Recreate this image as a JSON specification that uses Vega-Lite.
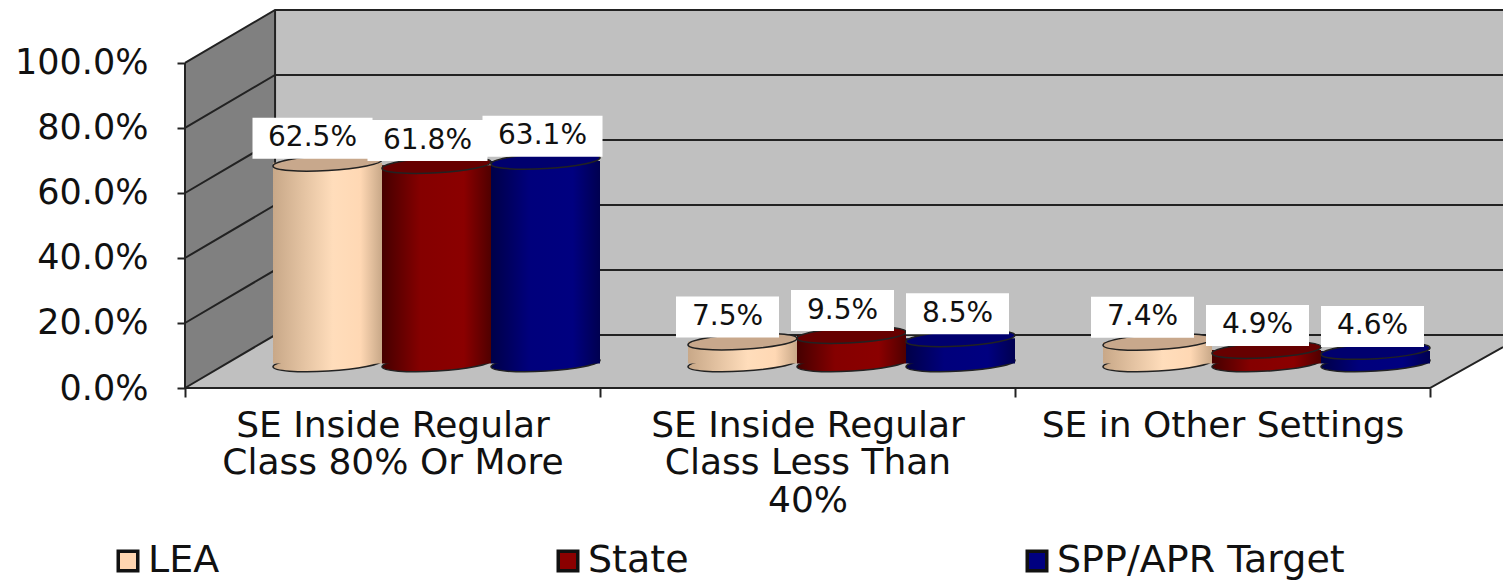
{
"$schema":"https://vega.github.io/schema/vega-lite/v6.json",
"width":1318,"height":378,
"autosize":{"type":"none"},
"padding":{"left":185,"top":10,"right":0,"bottom":194},
"background":"white",
"view":{"stroke":null},
"config":{"font":"DejaVu Sans","axis":{"grid":false}},
"params":[{"name":"cyl","expr":"{'LEA':{gradient:'linear',x1:0,x2:1,y1:0,y2:0,stops:[{offset:0,color:'#C8A888'},{offset:0.55,color:'#FFDDBB'},{offset:0.8,color:'#FFD8B4'},{offset:1,color:'#C8A888'}]},'State':{gradient:'linear',x1:0,x2:1,y1:0,y2:0,stops:[{offset:0,color:'#450000'},{offset:0.35,color:'#850000'},{offset:0.75,color:'#8B0000'},{offset:1,color:'#500000'}]},'SPP/APR Target':{gradient:'linear',x1:0,x2:1,y1:0,y2:0,stops:[{offset:0,color:'#000048'},{offset:0.35,color:'#00007C'},{offset:0.75,color:'#000080'},{offset:1,color:'#000050'}]}}"}],
"datasets":{
"walls":[
{"part":"side","gx":0,"gy":0,"gy2":1},
{"part":"side","gx":0.217,"gy":0.163,"gy2":1.163},
{"part":"back","gx":0.217,"gy":0.163,"gy2":1.163},
{"part":"back","gx":3.176,"gy":0.163,"gy2":1.163},
{"part":"floor","gx":0,"gy":0,"gy2":0},
{"part":"floor","gx":0.217,"gy":0,"gy2":0.163},
{"part":"floor","gx":3,"gy":0,"gy2":0.163},
{"part":"floor","gx":3.176,"gy":0.126,"gy2":0.163}
],
"lines":[
{"g":"k0","i":0,"gx":0,"gy":0},{"g":"k0","i":1,"gx":0.217,"gy":0.163},{"g":"k0","i":2,"gx":3.176,"gy":0.163},
{"g":"k1","i":0,"gx":0,"gy":0.2},{"g":"k1","i":1,"gx":0.217,"gy":0.363},{"g":"k1","i":2,"gx":3.176,"gy":0.363},
{"g":"k2","i":0,"gx":0,"gy":0.4},{"g":"k2","i":1,"gx":0.217,"gy":0.563},{"g":"k2","i":2,"gx":3.176,"gy":0.563},
{"g":"k3","i":0,"gx":0,"gy":0.6},{"g":"k3","i":1,"gx":0.217,"gy":0.763},{"g":"k3","i":2,"gx":3.176,"gy":0.763},
{"g":"k4","i":0,"gx":0,"gy":0.8},{"g":"k4","i":1,"gx":0.217,"gy":0.963},{"g":"k4","i":2,"gx":3.176,"gy":0.963},
{"g":"k5","i":0,"gx":0,"gy":1},{"g":"k5","i":1,"gx":0.217,"gy":1.163},{"g":"k5","i":2,"gx":3.176,"gy":1.163},
{"g":"front","i":0,"gx":0,"gy":0},{"g":"front","i":1,"gx":3,"gy":0},{"g":"front","i":2,"gx":3.176,"gy":0.126},
{"g":"left","i":0,"gx":0,"gy":0},{"g":"left","i":1,"gx":0,"gy":1},
{"g":"corner","i":0,"gx":0.217,"gy":0.163},{"g":"corner","i":1,"gx":0.217,"gy":1.163}
],
"bars":[
{"category":"SE Inside Regular Class 80% Or More","series":"LEA","value":0.625},
{"category":"SE Inside Regular Class 80% Or More","series":"State","value":0.618},
{"category":"SE Inside Regular Class 80% Or More","series":"SPP/APR Target","value":0.631},
{"category":"SE Inside Regular Class Less Than 40%","series":"LEA","value":0.075},
{"category":"SE Inside Regular Class Less Than 40%","series":"State","value":0.095},
{"category":"SE Inside Regular Class Less Than 40%","series":"SPP/APR Target","value":0.085},
{"category":"SE in Other Settings","series":"LEA","value":0.074},
{"category":"SE in Other Settings","series":"State","value":0.049},
{"category":"SE in Other Settings","series":"SPP/APR Target","value":0.046}
]
},
"resolve":{"scale":{"x":"independent","xOffset":"independent","fill":"independent"},"axis":{"y":"independent"}},
"layer":[
{"data":{"name":"bars"},
 "mark":{"type":"point","filled":true,"size":1,"opacity":1},
 "encoding":{"x":{"field":"category","type":"nominal","sort":null,"axis":null,"scale":{"type":"band","range":[0,1245],"paddingInner":0,"paddingOuter":0}},
 "y":{"field":"value","type":"quantitative","scale":{"domain":[0,1.163],"nice":false},
  "axis":{"title":null,"values":[0,0.2,0.4,0.6,0.8,1],"format":".1%","domain":false,"grid":false,"tickColor":"#222222","tickWidth":2,"tickSize":8,"labelFontSize":35,"labelColor":"#111111","labelPadding":29,"labelFont":"DejaVu Sans"}},
 "color":{"field":"series","type":"nominal","title":null,"scale":{"domain":["LEA","State","SPP/APR Target"],"range":["#FFD5B0","#8B0000","#000080"]},
 "legend":{"orient":"none","legendX":-76,"legendY":532,"direction":"horizontal","columns":3,"columnPadding":329,"gridAlign":"each","symbolType":"square","symbolSize":380,"symbolStrokeColor":"#111111","symbolStrokeWidth":3.5,"labelFontSize":38,"labelColor":"#111111","labelLimit":400,"labelOffset":1,"symbolOpacity":1}}}},
{"data":{"name":"walls"},"transform":[{"filter":"datum.part=='side'"}],
 "mark":{"type":"area","fill":"#808080"},
 "encoding":{"x":{"field":"gx","type":"quantitative","axis":null,"scale":{"domain":[0,3.176],"nice":false,"zero":false}},
 "y":{"field":"gy","type":"quantitative","axis":null,"scale":{"domain":[0,1.163],"nice":false}},
 "y2":{"field":"gy2"}}},
{"data":{"name":"walls"},"transform":[{"filter":"datum.part=='back'"}],
 "mark":{"type":"area","fill":"#C0C0C0"},
 "encoding":{"x":{"field":"gx","type":"quantitative","axis":null,"scale":{"domain":[0,3.176],"nice":false,"zero":false}},
 "y":{"field":"gy","type":"quantitative","axis":null,"scale":{"domain":[0,1.163],"nice":false}},"y2":{"field":"gy2"}}},
{"data":{"name":"walls"},"transform":[{"filter":"datum.part=='floor'"}],
 "mark":{"type":"area","fill":"#C0C0C0"},
 "encoding":{"x":{"field":"gx","type":"quantitative","axis":null,"scale":{"domain":[0,3.176],"nice":false,"zero":false}},
 "y":{"field":"gy","type":"quantitative","axis":null,"scale":{"domain":[0,1.163],"nice":false}},"y2":{"field":"gy2"}}},
{"data":{"name":"lines"},
 "mark":{"type":"line","stroke":"#222222","strokeWidth":2},
 "encoding":{"x":{"field":"gx","type":"quantitative","axis":null,"scale":{"domain":[0,3.176],"nice":false,"zero":false}},
 "y":{"field":"gy","type":"quantitative","axis":null,"scale":{"domain":[0,1.163],"nice":false}},
 "detail":{"field":"g"},"order":{"field":"i"}}},
{"data":{"name":"bars"},
 "mark":{"type":"point","filled":true,"opacity":1,"size":11881,"stroke":"#222222","strokeWidth":1.5,"fill":{"expr":"cyl[datum.series]"},"shape":"M-1,0.06 A1,0.14 -3.4 1,1 1,-0.06 A1,0.14 -3.4 1,1 -1,0.06 Z","yOffset":-24.5},
 "encoding":{"x":{"field":"category","type":"nominal","sort":null,"axis":null,"scale":{"type":"band","range":[0,1245],"paddingInner":0,"paddingOuter":0}},
 "xOffset":{"field":"series","type":"nominal","sort":["LEA","State","SPP/APR Target"],"scale":{"type":"band","domain":["LEA","State","SPP/APR Target"],"range":[88,415],"paddingInner":0,"paddingOuter":0}},
 "y":{"datum":0,"type":"quantitative","axis":null,"scale":{"domain":[0,1.163],"nice":false}}}},
{"data":{"name":"bars"},
 "mark":{"type":"bar","yOffset":-22,"y2Offset":-24.5,"fill":{"expr":"cyl[datum.series]"}},
 "encoding":{"x":{"field":"category","type":"nominal","sort":null,"title":null,"scale":{"type":"band","range":[0,1245],"paddingInner":0,"paddingOuter":0},
  "axis":{"title":null,"domain":false,"tickBand":"extent","tickColor":"#222222","tickWidth":2,"tickSize":9,"labelAngle":0,"labelFontSize":36,"labelColor":"#111111","labelPadding":11,"labelLimit":500,"labelLineHeight":37.5,"labelExpr":"split(replace(replace(datum.label,'Regular ','Regular|'),'Than ','Than|'),'|')"}},
 "xOffset":{"field":"series","type":"nominal","sort":["LEA","State","SPP/APR Target"],"scale":{"type":"band","domain":["LEA","State","SPP/APR Target"],"range":[88,415],"paddingInner":0,"paddingOuter":0}},
 "y":{"field":"value","type":"quantitative","axis":null,"stack":null,"scale":{"domain":[0,1.163],"nice":false}},
 "y2":{"datum":0}}},
{"data":{"name":"bars"},
 "mark":{"type":"point","filled":true,"opacity":1,"size":11881,"stroke":"#222222","strokeWidth":1.5,"shape":"M-1,0.06 A1,0.14 -3.4 1,1 1,-0.06 A1,0.14 -3.4 1,1 -1,0.06 Z","yOffset":-22},
 "encoding":{"x":{"field":"category","type":"nominal","sort":null,"axis":null,"scale":{"type":"band","range":[0,1245],"paddingInner":0,"paddingOuter":0}},
 "xOffset":{"field":"series","type":"nominal","sort":["LEA","State","SPP/APR Target"],"scale":{"type":"band","domain":["LEA","State","SPP/APR Target"],"range":[88,415],"paddingInner":0,"paddingOuter":0}},
 "y":{"field":"value","type":"quantitative","axis":null,"scale":{"domain":[0,1.163],"nice":false}},
 "fill":{"field":"series","type":"nominal","legend":null,"scale":{"domain":["LEA","State","SPP/APR Target"],"range":["#C8A88C","#660000","#00006E"]}}}},
{"data":{"name":"bars"},"transform":[{"filter":"datum.value>=0.1"}],
 "mark":{"type":"point","filled":true,"fill":"white","opacity":1,"strokeWidth":0,"size":14400,"shape":"M-1,-0.342 H1 V0.342 H-1 Z","yOffset":-46.6},
 "encoding":{"x":{"field":"category","type":"nominal","sort":null,"axis":null,"scale":{"type":"band","domain":["SE Inside Regular Class 80% Or More","SE Inside Regular Class Less Than 40%","SE in Other Settings"],"range":[0,1245],"paddingInner":0,"paddingOuter":0}},
 "xOffset":{"field":"series","type":"nominal","sort":["LEA","State","SPP/APR Target"],"scale":{"type":"band","domain":["LEA","State","SPP/APR Target"],"range":[70,415],"paddingInner":0,"paddingOuter":0}},
 "y":{"field":"value","type":"quantitative","axis":null,"scale":{"domain":[0,1.163],"nice":false}}}},
{"data":{"name":"bars"},"transform":[{"filter":"datum.value<0.1"}],
 "mark":{"type":"point","filled":true,"fill":"white","opacity":1,"strokeWidth":0,"size":10609,"shape":"M-1,-0.398 H1 V0.398 H-1 Z","yOffset":-46.6},
 "encoding":{"x":{"field":"category","type":"nominal","sort":null,"axis":null,"scale":{"type":"band","domain":["SE Inside Regular Class 80% Or More","SE Inside Regular Class Less Than 40%","SE in Other Settings"],"range":[0,1245],"paddingInner":0,"paddingOuter":0}},
 "xOffset":{"field":"series","type":"nominal","sort":["LEA","State","SPP/APR Target"],"scale":{"type":"band","domain":["LEA","State","SPP/APR Target"],"range":[70,415],"paddingInner":0,"paddingOuter":0}},
 "y":{"field":"value","type":"quantitative","axis":null,"scale":{"domain":[0,1.163],"nice":false}}}},
{"data":{"name":"bars"},
 "mark":{"type":"text","fontSize":28,"color":"#111111","baseline":"middle","align":"center","yOffset":-46.6},
 "encoding":{"x":{"field":"category","type":"nominal","sort":null,"axis":null,"scale":{"type":"band","range":[0,1245],"paddingInner":0,"paddingOuter":0}},
 "xOffset":{"field":"series","type":"nominal","sort":["LEA","State","SPP/APR Target"],"scale":{"type":"band","domain":["LEA","State","SPP/APR Target"],"range":[70,415],"paddingInner":0,"paddingOuter":0}},
 "y":{"field":"value","type":"quantitative","axis":null,"scale":{"domain":[0,1.163],"nice":false}},
 "text":{"field":"value","type":"quantitative","format":".1%"}}}
]
}
